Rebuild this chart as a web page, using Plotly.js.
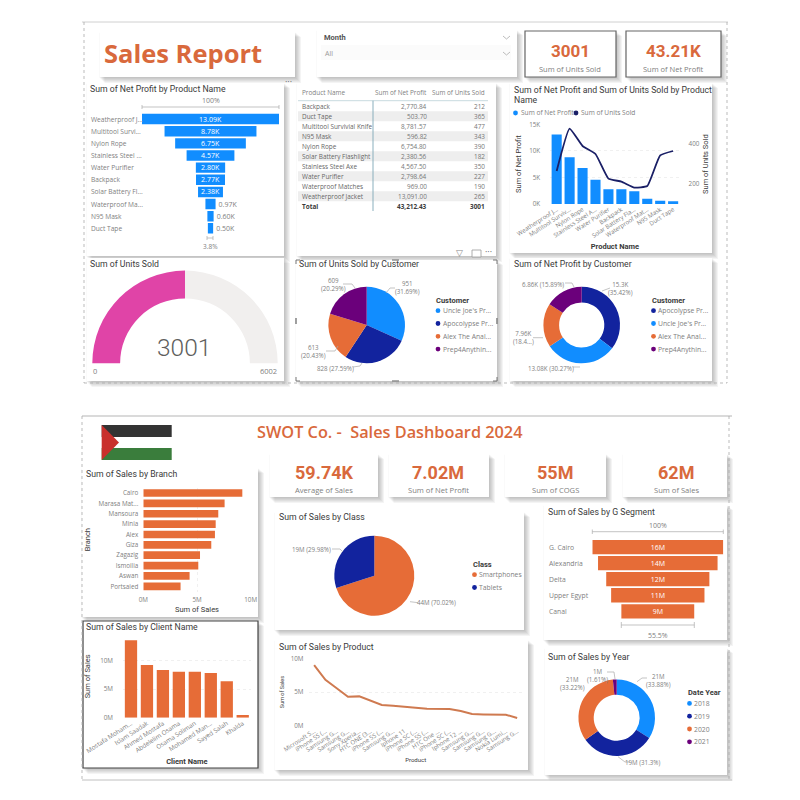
<!DOCTYPE html>
<html><head><meta charset="utf-8">
<script src="https://cdn.plot.ly/plotly-3.0.1.min.js"></script>
<style>html,body{margin:0;padding:0;background:#fff}#c{width:800px;height:800px}</style>
</head><body><div id="c"></div>
<script>
// ---------- data ----------
const funnelProducts = ["Weatherproof J...","Multitool Survi...","Nylon Rope","Stainless Steel ...","Water Purifier","Backpack","Solar Battery Fl...","Waterproof Ma...","N95 Mask","Duct Tape"];
const comboProducts = ["Weatherproof J...","Multitool Surviv...","Nylon Rope","Stainless Steel A...","Water Purifier","Backpack","Solar Battery Fla...","Waterproof Mat...","N95 Mask","Duct Tape"];
const productNetProfit = [13091,8781.57,6754.8,4567.5,2798.64,2770.84,2380.56,969,596.82,503.7];
const productNetLabels = ["13.09K","8.78K","6.75K","4.57K","2.80K","2.77K","2.38K","0.97K","0.60K","0.50K"];
const productUnits = [265,477,390,350,227,212,182,190,343,365];
const tableNames = ["Backpack","Duct Tape","Multitool Survivial Knife","N95 Mask","Nylon Rope","Solar Battery Flashlight","Stainless Steel Axe","Water Purifier","Waterproof Matches","Weatherproof Jacket"];
const tableProfit = ["2,770.84","503.70","8,781.57","596.82","6,754.80","2,380.56","4,567.50","2,798.64","969.00","13,091.00"];
const tableUnits = ["212","365","477","343","390","182","350","227","190","265"];
const gaugeValue = 3001, gaugeMax = 6002;
const unitsCustomers = ["Uncle Joe's Pr...","Apocolypse Pr...","Alex The Anal...","Prep4Anythin..."];
const unitsByCustomer = [951,828,613,609];
const profitCustomers = ["Apocolypse Pr...","Uncle Joe's Pr...","Alex The Anal...","Prep4Anythin..."];
const profitByCustomer = [15.3,13.08,7.96,6.87];
const branches = ["Cairo","Marasa Mat...","Mansoura","Minia","Alex","Giza","Zagazig","Ismoilia","Aswan","Portsaied"];
const branchSales = [9.22,7.57,6.98,6.74,6.67,6.33,5.28,5.12,4.31,3.47];
const clients = ["Mostafa Moham...","Islam Saadak","Ahmed Mostafa","Abdelelim Osama","Osama Soliman","Mohamed Man...","Sayed Salah","Khalda"];
const clientSales = [13.58,9.24,8.36,8.07,8.05,7.84,6.37,0.47];
const classes = ["Smartphones","Tablets"];
const classSales = [70.02,29.98];
const products = ["Microsoft S...","iPhone 5S (...","Samsung G...","Samsung G...","Sony Xperia...","HTC ONE (3...","iPhone 5S (...","Samsung G...","Iphone 11","iPhone SC (...","iPhone 5S (...","HTC One ...","iPhone SC (...","Iphone 12 ...","Samsung G...","Samsung G...","Samsung G...","Nokia Lumi...","Samsung G..."];
const productSales = [9.0,6.8,5.55,4.3,4.35,3.7,3.07,2.97,2.77,2.67,2.52,2.47,2.47,2.18,1.73,1.68,1.63,1.63,1.14];
const segments = ["G. Cairo","Alexandria","Delta","Upper Egypt","Canal"];
const segmentSales = [16,14.6,12.6,11.4,8.9];
const segmentLabels = ["16M","14M","12M","11M","9M"];
const years = ["2018","2019","2020","2021"];
const yearSales = [33.88,31.3,33.22,1.61];

// ---------- palette ----------
const BLUE="#118dff",NAVY="#12239e",ORANGE="#e66c37",PURPLE="#6b007b",PINK="#e044a7",TITLEOR="#d9693c";
const GRAY="#808080",DARK="#3a3a3a";
const UI="Open Sans, sans-serif",DIN="Roboto, sans-serif";

// ---------- helpers ----------
const X=v=>v/800, Y=v=>1-v/800;
const dx=(a,b)=>[X(a),X(b)], dy=(t,b)=>[Y(b),Y(t)];
const shapes=[],ann=[];
const rect=(x0,y0,x1,y1,fill,line,lw)=>shapes.push({type:"rect",xref:"paper",yref:"paper",x0:X(x0),x1:X(x1),y0:Y(y0),y1:Y(y1),fillcolor:fill,line:{width:lw||0,color:line||"rgba(0,0,0,0)"},layer:"below"});
function card(x0,y0,x1,y1,border){
  for(let i=6;i>=1;i--) rect(x0+i-1.5,y0+i*0.8,x1+i,y1+i,"rgba(70,70,70,0.06)");
  rect(x0,y0,x1,y1,"#ffffff",border,border?1.2:0);
}
const line=(pts,color,w,dash)=>shapes.push({type:"path",xref:"paper",yref:"paper",path:pts.map((p,i)=>(i?"L":"M")+X(p[0])+" "+Y(p[1])).join(" "),line:{color:color||"#aaaaaa",width:w||0.7,dash:dash||"solid"},layer:"above"});
const dot=(x,y,c,r)=>{r=r||2.4;shapes.push({type:"circle",xref:"paper",yref:"paper",x0:X(x-r),x1:X(x+r),y0:Y(y+r),y1:Y(y-r),fillcolor:c,line:{width:0},layer:"above"});};
function txt(x,y,t,o){o=o||{};ann.push({xref:"paper",yref:"paper",x:X(x),y:Y(y),text:t,showarrow:false,xanchor:o.a||"left",yanchor:"middle",align:o.a||"left",borderpad:0,textangle:o.rot||0,
  font:{family:o.f||UI,size:o.s||7,color:o.c||GRAY,weight:o.w||400}});}
const title=(x,y,t,s)=>txt(x,y,t,{f:DIN,s:s||8.7,c:DARK,w:400});
const kpi=(cx,y1,y2,v,l,vs,ls)=>{txt(cx,y1,v,{f:DIN,s:vs,c:TITLEOR,w:700,a:"center"});txt(cx,y2,l,{s:ls,c:GRAY,a:"center"});};
const legend=(x,y0,head,names,colors)=>{txt(x,y0,head,{f:DIN,s:7.5,c:DARK,w:700});
  names.forEach((n,i)=>{const y=y0+10.7+i*12.8;dot(x+3,y,colors[i]);txt(x+6.8,y,n,{s:6.8});});};
const pieDom=(cx,cy,r)=>({x:dx(cx-r,cx+r),y:dy(cy-r,cy+r)});
const axisBase={showgrid:false,zeroline:false,showline:false,ticks:"",fixedrange:true,tickfont:{family:UI,size:6.3,color:GRAY}};
const grid={showgrid:true,gridcolor:"#f0f0f0",griddash:"dot",gridwidth:1};
const atitle=(t,s,standoff,bold)=>({text:t,standoff:standoff,font:{family:DIN,size:s,color:DARK,weight:bold?700:400}});

// ---------- frames ----------
line([[82,22],[728,22]],"#d0d0d0",1);
line([[84,22],[84,383]],"#aaaaaa",0.8,"dot");
line([[727,22],[727,383]],"#aaaaaa",0.8,"dot");
line([[84,383],[727,383]],"#aaaaaa",0.8,"dot");
line([[82,416],[732,416]],"#b5b5b5",1);
line([[82,416],[82,780]],"#aaaaaa",0.8,"dot");
line([[729,416],[729,780]],"#aaaaaa",0.8,"dot");
line([[82,780],[732,780]],"#c0c0c0",1);

// ---------- cards ----------
card(100,32,295,77);
card(317,30,517,77);
card(525,31,616,77,"#666666");
card(626,31,721,77,"#666666");
card(87,83,284,256);
card(297,83,496,256);
card(510,83,712,253);
card(87,258,284,381);
card(296,260,497,381);
card(510,258,712,381);
card(82,468,258,617);
card(83,621,258,768,"#444444");
card(270,454,378,497);
card(389,454,489,497);
card(505,454,606,497);
card(623,454,727,497);
card(275,512,524,630);
card(275,640,528,770);
card(544,505,727,640);
card(545,648,727,775);

// ---------- top: header ----------
txt(103,53,"Sales Report",{f:UI,s:25.5,c:TITLEOR,w:700});
txt(323,37.5,"Month",{f:DIN,s:7.5,c:"#555555",w:700});
txt(324,53,"All",{s:7,c:"#999999"});
rect(321,45,511,60,"#fbfbfb");
line([[503,36],[506.5,39],[510,36]],"#aaaaaa",0.8);
line([[503,52],[506.5,55],[510,52]],"#aaaaaa",0.8);
kpi(570,51,69,"3001","Sum of Units Sold",17,7.5);
kpi(673,51,69,"43.21K","Sum of Net Profit",17,7.5);

// ---------- top: funnel ----------
title(89,89,"Sum of Net Profit by Product Name");
txt(210.5,101,"100%",{a:"center",s:7});
line([[142,105],[142,109]],"#aaa");line([[142,107],[279,107]],"#aaa");line([[279,105],[279,109]],"#aaa");
funnelProducts.forEach(n=>ann.push({xref:"paper",yref:"y",x:X(89),y:n,text:n,showarrow:false,xanchor:"left",yanchor:"middle",font:{family:UI,size:6.6,color:GRAY}}));
line([[207,236],[207,240]],"#aaa");line([[207,238],[213,238]],"#aaa");line([[213,236],[213,240]],"#aaa");
txt(210.5,246,"3.8%",{a:"center",s:6.5});
txt(288,81,"···",{a:"center",s:9,c:"#666"});

// ---------- top: table ----------
txt(301,92,"Product Name",{s:6.4});
txt(428,92,"Sum of Net Profit",{s:6.4,a:"right"});
txt(486,92,"Sum of Units Sold",{s:6.4,a:"right"});
line([[298,100.7],[488,100.7]],"#b9cfd6",0.8);
tableNames.forEach((n,i)=>{const y=106.2+i*10;
  if(i%2==1) rect(298,y-5,488,y+5,"#eeeeee");
  txt(301,y,n,{s:6.4,c:"#666"});
  txt(428,y,tableProfit[i],{s:6.4,c:"#777",a:"right"});
  txt(486,y,tableUnits[i],{s:6.4,c:"#777",a:"right"});
});
txt(301,206.2,"Total",{s:6.4,c:DARK,w:700});
txt(428,206.2,"43,212.43",{s:6.4,c:DARK,w:700,a:"right"});
txt(486,206.2,"3001",{s:6.4,c:DARK,w:700,a:"right"});
line([[373,100.7],[373,211]],"#7ea6b5",0.9);
txt(459,253,"▽",{a:"center",s:9,c:"#888",f:"DejaVu Sans"});
rect(472,250,481,257,"#ffffff","#999999",0.8);
txt(489,252,"···",{a:"center",s:9,c:"#666"});

// ---------- top: combo ----------
title(513,90,"Sum of Net Profit and Sum of Units Sold by Product");
title(513,100,"Name");
dot(515.5,113,BLUE);txt(519.5,113,"Sum of Net Profit",{s:6.6});
dot(576,113,"#1a1f66");txt(580,113,"Sum of Units Sold",{s:6.6});

// ---------- gauge / customers ----------
title(89,264,"Sum of Units Sold");
txt(184,347,String(gaugeValue),{f:DIN,s:24.5,c:"#605e5c",w:300,a:"center"});
txt(92,371,"0",{s:7.5});
txt(278,371,String(gaugeMax),{s:7.5,a:"right"});

title(298,264,"Sum of Units Sold by Customer");
legend(435,300,"Customer",unitsCustomers,[BLUE,NAVY,ORANGE,PURPLE]);
txt(407,287,"951<br>(31.69%)",{a:"center",s:6.2});
txt(333,285,"609<br>(20.29%)",{a:"center",s:6.2});
txt(313,352,"613<br>(20.43%)",{a:"center",s:6.2});
txt(335,368,"828 (27.59%)",{a:"center",s:6.2});
line([[386,293],[390,288],[395,288]]);
line([[343,284],[352,284],[355,288]]);
line([[326,351],[335,351],[338,346]]);
line([[353,367],[360,366],[362,363]]);
// selection handles
[[296,260,1,1],[497,260,-1,1],[296,381,1,-1],[497,381,-1,-1]].forEach(c=>line([[c[0]+c[2]*4,c[1]],[c[0],c[1]],[c[0],c[1]+c[3]*4]],"#666",0.9));
[[[296,318],[296,324]],[[497,318],[497,324]]].forEach(s=>line(s,"#888",1.6));
[[[392,260],[399,260]],[[392,381],[399,381]]].forEach(s=>line(s,"#888",1.4));

title(513,264,"Sum of Net Profit by Customer");
legend(650.5,300,"Customer",profitCustomers,[NAVY,BLUE,ORANGE,PURPLE]);
txt(620,288,"15.3K<br>(35.42%)",{a:"center",s:6.2});
txt(543,284,"6.86K (15.89%)",{a:"center",s:6.2});
txt(523,337,"7.96K<br>(18.4...)",{a:"center",s:6.2});
txt(551,369,"13.08K (30.27%)",{a:"center",s:6.2});
line([[602,291],[610,288]]);
line([[565,283],[572,283],[574,287]]);
line([[533,337.7],[543,337.7]]);
line([[573,367],[580,367]]);

// ---------- bottom header ----------
rect(101.7,425,171.7,437,"#333333");
rect(101.7,437,171.7,448,"#ffffff");
rect(101.7,448,171.7,460,"#3a7d3c");
shapes.push({type:"path",xref:"paper",yref:"paper",path:`M${X(101.7)} ${Y(425)} L${X(119)} ${Y(442.5)} L${X(101.7)} ${Y(460)} Z`,fillcolor:"#c9302c",line:{width:0},layer:"below"});
txt(390,432.3,"SWOT Co. -  Sales Dashboard 2024",{s:16.3,c:TITLEOR,w:600,a:"center"});
kpi(324,472,490,"59.74K","Average of Sales",18,7.6);
kpi(438,472,490,"7.02M","Sum of Net Profit",18,7.6);
kpi(555,472,490,"55M","Sum of COGS",18,7.6);
kpi(676,472,490,"62M","Sum of Sales",18,7.6);

title(85,474,"Sum of Sales by Branch");
title(85,627,"Sum of Sales by Client Name");
title(278,517,"Sum of Sales by Class");
legend(471.5,564,"Class",classes,[ORANGE,NAVY]);
txt(311.7,549.7,"19M (29.98%)",{a:"center",s:6.2});
txt(436.7,602.7,"44M (70.02%)",{a:"center",s:6.2});
line([[332,549],[340,549],[343,552]]);
line([[410,601.7],[418,602.7]]);
title(278,646.7,"Sum of Sales by Product");

title(547,512,"Sum of Sales by G Segment");
txt(658,525,"100%",{a:"center",s:7});
line([[592.3,529.5],[592.3,534]],"#aaa");line([[592.3,531.7],[723.3,531.7]],"#aaa");line([[723.3,529.5],[723.3,534]],"#aaa");
segments.forEach(n=>ann.push({xref:"paper",yref:"y7",x:X(547),y:n,text:n,showarrow:false,xanchor:"left",yanchor:"middle",font:{family:UI,size:6.8,color:GRAY}}));
line([[621.3,622],[621.3,628]],"#aaa");line([[621.3,625],[694.3,625]],"#aaa");line([[694.3,622],[694.3,628]],"#aaa");
txt(658,635,"55.5%",{a:"center",s:7});

title(547,657,"Sum of Sales by Year");
legend(686.5,692.7,"Date Year",years,[BLUE,NAVY,ORANGE,PURPLE]);
txt(658,680,"21M<br>(33.88%)",{a:"center",s:6.2});
txt(642,762,"19M (31.3%)",{a:"center",s:6.2});
txt(572,683,"21M<br>(33.22%)",{a:"center",s:6.2});
txt(597,675,"1M<br>(1.61%)",{a:"center",s:6.2});
line([[637,681.7],[642,678],[647,678]]);
line([[618,756.7],[625,762],[630,762]]);
line([[607,672],[614,672],[615,679]]);

// ---------- traces ----------
const noHover={hoverinfo:"skip"};
const traces=[
 {type:"funnel",orientation:"h",x:productNetProfit,y:funnelProducts,xaxis:"x",yaxis:"y",width:0.86,marker:{color:BLUE},connector:{visible:false},
  text:productNetLabels,textinfo:"text",textposition:productNetProfit.map(v=>v>2000?"inside":"outside"),
  insidetextfont:{family:UI,size:7,color:"#ffffff"},outsidetextfont:{family:UI,size:7,color:GRAY},constraintext:"none",cliponaxis:false,...noHover},
 {type:"bar",x:comboProducts,y:productNetProfit,xaxis:"x2",yaxis:"y2",width:0.78,marker:{color:BLUE},...noHover},
 {type:"scatter",mode:"lines",x:comboProducts,y:productUnits,xaxis:"x2",yaxis:"y3",line:{color:"#1a1f66",width:1.8,shape:"spline",smoothing:0.4},...noHover},
 {type:"pie",values:[gaugeValue,gaugeMax-gaugeValue,gaugeMax],domain:pieDom(185,363.3,92.7),hole:0.7,sort:false,direction:"clockwise",rotation:-90,textinfo:"none",
  marker:{colors:[PINK,"#f1efee","rgba(0,0,0,0)"],line:{width:0}},showlegend:false,...noHover},
 {type:"pie",values:unitsByCustomer,labels:unitsCustomers,domain:pieDom(366.7,325,38.3),sort:false,direction:"clockwise",textinfo:"none",marker:{colors:[BLUE,NAVY,ORANGE,PURPLE]},showlegend:false,...noHover},
 {type:"pie",values:profitByCustomer,labels:profitCustomers,domain:pieDom(581.7,325,38.3),hole:0.59,sort:false,direction:"clockwise",textinfo:"none",marker:{colors:[NAVY,BLUE,ORANGE,PURPLE]},showlegend:false,...noHover},
 {type:"bar",orientation:"h",x:branchSales,y:branches,xaxis:"x3",yaxis:"y4",width:0.74,marker:{color:ORANGE},...noHover},
 {type:"bar",x:clients,y:clientSales,xaxis:"x4",yaxis:"y5",width:0.77,marker:{color:ORANGE},...noHover},
 {type:"pie",values:classSales,labels:classes,domain:pieDom(374.3,575.7,40),sort:false,direction:"clockwise",textinfo:"none",marker:{colors:[ORANGE,NAVY]},showlegend:false,...noHover},
 {type:"scatter",mode:"lines",x:products.map((_,i)=>i),y:productSales,xaxis:"x5",yaxis:"y6",line:{color:"#cf7a50",width:2},...noHover},
 {type:"funnel",orientation:"h",x:segmentSales,y:segments,xaxis:"x6",yaxis:"y7",width:0.89,marker:{color:ORANGE},connector:{visible:false},
  text:segmentLabels,textinfo:"text",textposition:"inside",insidetextfont:{family:UI,size:7,color:"#ffffff"},constraintext:"none",...noHover},
 {type:"pie",values:yearSales,labels:years,domain:pieDom(616.7,717.7,38.3),hole:0.6,sort:false,direction:"clockwise",textinfo:"none",marker:{colors:[BLUE,NAVY,ORANGE,PURPLE]},showlegend:false,...noHover}
];

// ---------- layout ----------
const layout={width:800,height:800,autosize:false,margin:{l:0,r:0,t:0,b:0,pad:0},paper_bgcolor:"#ffffff",plot_bgcolor:"rgba(0,0,0,0)",showlegend:false,hovermode:false,
 shapes:shapes,annotations:ann,
 xaxis:{...axisBase,domain:dx(142,279),range:[-productNetProfit[0]/2,productNetProfit[0]/2],visible:false},
 yaxis:{...axisBase,domain:dy(113,234.4),type:"category",categoryorder:"array",categoryarray:funnelProducts,range:[9.5,-0.5],visible:false},
 xaxis2:{...axisBase,domain:dx(550.2,679.6),anchor:"y2",type:"category",categoryorder:"array",categoryarray:comboProducts,tickangle:-33,tickfont:{family:UI,size:6,color:GRAY},ticklabelstandoff:0,title:atitle("Product Name",7.5,5,true)},
 yaxis2:{...axisBase,...grid,domain:dy(124.3,204),anchor:"x2",range:[0,15000],tickvals:[0,5000,10000,15000],ticktext:["0K","5K","10K","15K"],ticklabelstandoff:9,title:atitle("Sum of Net Profit",7.5,6)},
 yaxis3:{...axisBase,overlaying:"y2",side:"right",anchor:"x2",range:[100,498.5],tickvals:[200,400],ticklabelstandoff:8,title:atitle("Sum of Units Sold",7.5,3)},
 xaxis3:{...axisBase,...grid,domain:dx(143.3,250.7),anchor:"y4",range:[0,10],tickvals:[0,5,10],ticktext:["0M","5M","10M"],ticklabelstandoff:3,title:atitle("Sum of Sales",7.5,3)},
 yaxis4:{...axisBase,domain:dy(487.8,591.5),anchor:"x3",type:"category",categoryorder:"array",categoryarray:branches,range:[9.5,-0.5],ticklabelstandoff:4,title:atitle("Branch",7.5,6)},
 xaxis4:{...axisBase,domain:dx(123,250.7),anchor:"y5",type:"category",categoryorder:"array",categoryarray:clients,tickangle:-33,ticklabelstandoff:0,title:atitle("Client Name",7.5,4,true)},
 yaxis5:{...axisBase,...grid,domain:dy(635,717.7),anchor:"x4",range:[0,14.5],tickvals:[0,5,10],ticktext:["0M","5M","10M"],ticklabelstandoff:9,title:atitle("Sum of Sales",7.5,8)},
 xaxis5:{...axisBase,domain:dx(308.5,522.8),anchor:"y6",range:[-0.5,18.5],tickvals:products.map((_,i)=>i),ticktext:products,tickangle:-33,tickfont:{family:UI,size:6,color:GRAY},ticklabelstandoff:0,title:atitle("Product",6,4)},
 yaxis6:{...axisBase,...grid,domain:dy(658.3,725.7),anchor:"x5",range:[0,10],tickvals:[0,5,10],ticktext:["0M","5M","10M"],ticklabelstandoff:4,title:atitle("Sum of Sales",5.5,5)},
 xaxis6:{...axisBase,domain:dx(592.3,723.3),anchor:"y7",range:[-8,8],visible:false},
 yaxis7:{...axisBase,domain:dy(539,619.4),anchor:"x6",type:"category",categoryorder:"array",categoryarray:segments,range:[4.5,-0.5],visible:false}
};
Plotly.newPlot("c",traces,layout,{displayModeBar:false,staticPlot:true});
</script></body></html>
